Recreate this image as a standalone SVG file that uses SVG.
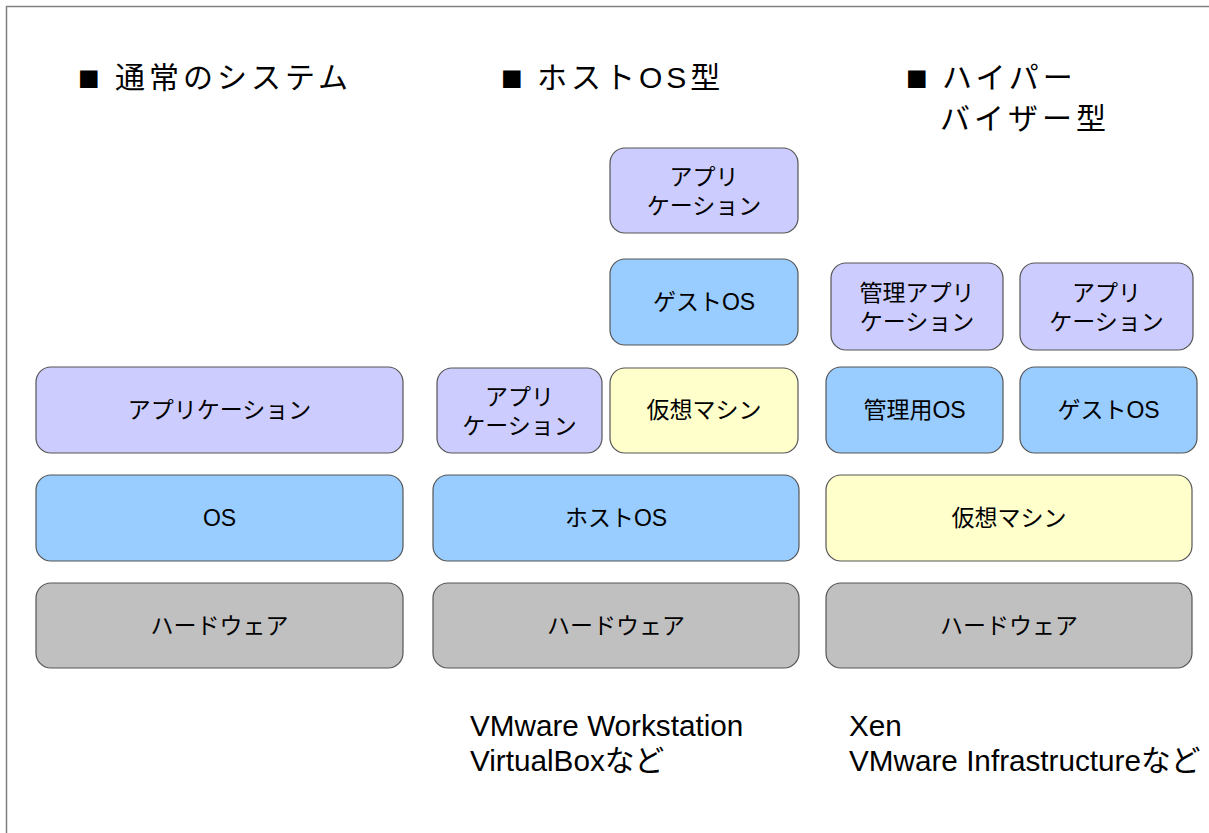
<svg xmlns="http://www.w3.org/2000/svg" width="1209" height="833" viewBox="0 0 1209 833">
<style>
.b{stroke:#555555;stroke-width:1.2}
.app{fill:#ccccff}
.os{fill:#99ccff}
.vm{fill:#ffffcc}
.hw{fill:#c0c0c0}
.t{font-family:"Liberation Sans","Noto Sans CJK JP",sans-serif;font-size:23px;fill:#000;text-anchor:middle}
.h{font-family:"Liberation Sans","Noto Sans CJK JP",sans-serif;font-size:30px;fill:#000;letter-spacing:4px}
.sq{font-family:"Liberation Sans",sans-serif;font-size:36px;fill:#000}
.f{font-family:"Liberation Sans","Noto Sans CJK JP",sans-serif;font-size:29.7px;fill:#000}
</style>
<rect x="0" y="0" width="1209" height="833" fill="#ffffff"/>
<rect x="6.5" y="6.5" width="1300" height="900" fill="none" stroke="#808080" stroke-width="1.5"/>
<g id="titles">
<text class="sq" x="78" y="90">■</text><text class="h" x="115" y="88">通常のシステム</text>
<text class="sq" x="501" y="90">■</text><text class="h" x="537" y="88">ホストOS型</text>
<text class="sq" x="906" y="90">■</text><text class="h" x="942" y="88">ハイパー</text>
<text class="h" x="940" y="129">バイザー型</text>
</g>
<g id="normal-app"><rect class="b app" x="36" y="367" width="367" height="86" rx="15"/><text class="t" x="219.5" y="418">アプリケーション</text></g>
<g id="normal-os"><rect class="b os" x="36" y="475" width="367" height="86" rx="15"/><text class="t" x="219.5" y="526">OS</text></g>
<g id="normal-hw"><rect class="b hw" x="36" y="583" width="367" height="85" rx="15"/><text class="t" x="219.5" y="634">ハードウェア</text></g>
<g id="host-guest-app"><rect class="b app" x="610" y="148" width="188" height="85" rx="15"/><text class="t" x="704" y="185">アプリ</text><text class="t" x="704" y="214">ケーション</text></g>
<g id="host-guest-os"><rect class="b os" x="610" y="259" width="188" height="86" rx="15"/><text class="t" x="704" y="310">ゲストOS</text></g>
<g id="host-app"><rect class="b app" x="437" y="368" width="165" height="85" rx="15"/><text class="t" x="519.5" y="405">アプリ</text><text class="t" x="519.5" y="434">ケーション</text></g>
<g id="host-vm"><rect class="b vm" x="610" y="368" width="188" height="85" rx="15"/><text class="t" x="704" y="418">仮想マシン</text></g>
<g id="host-os"><rect class="b os" x="433" y="475" width="366" height="86" rx="15"/><text class="t" x="616" y="526">ホストOS</text></g>
<g id="host-hw"><rect class="b hw" x="433" y="583" width="366" height="85" rx="15"/><text class="t" x="616" y="634">ハードウェア</text></g>
<g id="hv-mgmt-app"><rect class="b app" x="831" y="263" width="172" height="87" rx="15"/><text class="t" x="917" y="301">管理アプリ</text><text class="t" x="917" y="330">ケーション</text></g>
<g id="hv-app"><rect class="b app" x="1020" y="263" width="173" height="87" rx="15"/><text class="t" x="1106.5" y="301">アプリ</text><text class="t" x="1106.5" y="330">ケーション</text></g>
<g id="hv-mgmt-os"><rect class="b os" x="826" y="367" width="177" height="86" rx="15"/><text class="t" x="914.5" y="418">管理用OS</text></g>
<g id="hv-guest-os"><rect class="b os" x="1020" y="367" width="177" height="86" rx="15"/><text class="t" x="1108.5" y="418">ゲストOS</text></g>
<g id="hv-vm"><rect class="b vm" x="826" y="475" width="366" height="86" rx="15"/><text class="t" x="1009" y="526">仮想マシン</text></g>
<g id="hv-hw"><rect class="b hw" x="826" y="583" width="366" height="85" rx="15"/><text class="t" x="1009" y="634">ハードウェア</text></g>
<g id="notes">
<text class="f" x="470" y="736">VMware Workstation</text>
<text class="f" x="470" y="771">VirtualBoxなど</text>
<text class="f" x="849" y="736">Xen</text>
<text class="f" x="849" y="771">VMware Infrastructureなど</text>
</g>
<g id="connectors"></g>
</svg>
